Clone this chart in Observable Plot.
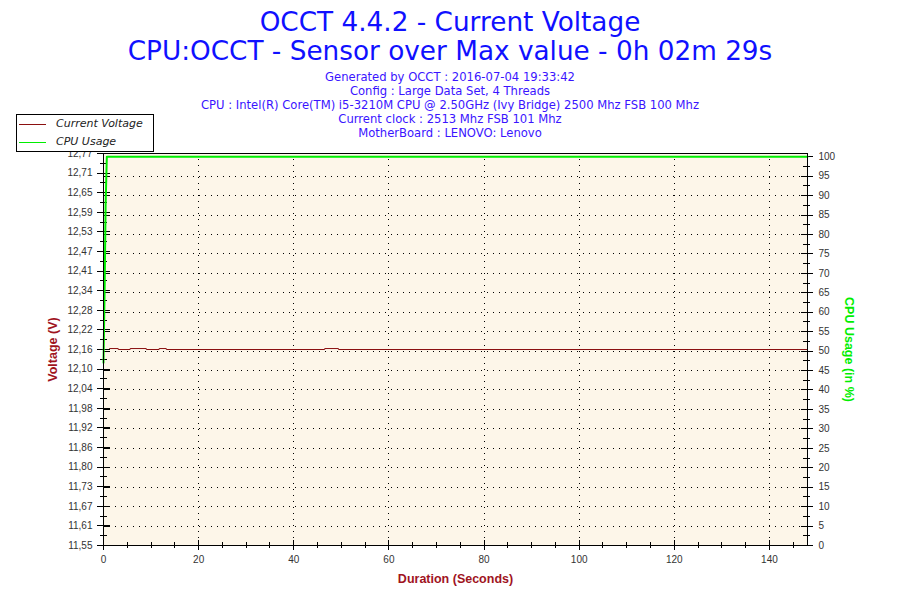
<!DOCTYPE html>
<html>
<head>
<meta charset="utf-8">
<script src="https://cdn.jsdelivr.net/npm/d3@7"></script>
<script src="https://cdn.jsdelivr.net/npm/@observablehq/plot@0.6"></script>
<style>
  html, body { margin: 0; padding: 0; background: #ffffff; }
  #wrap { position: relative; width: 900px; height: 600px; overflow: hidden; }
  #chart { position: absolute; left: 0; top: 0; }
  .t1 { position: absolute; left: 0; width: 900px; text-align: center; font-family: "DejaVu Sans", Verdana, sans-serif; font-size: 26.3px; color: #1010ff; line-height: 29px; }
  .sub { position: absolute; left: 0; width: 900px; text-align: center; font-family: "DejaVu Sans", Verdana, sans-serif; font-size: 11.6px; color: #3a14ff; line-height: 13.5px; }
  #legend { position: absolute; left: 16px; top: 114px; width: 136px; height: 36px; background: #fff; border: 1px solid #000; font-family: "DejaVu Sans", Verdana, sans-serif; font-size: 11px; font-style: italic; color: #222; }
  #legend .row { position: absolute; left: 0; height: 14px; width: 136px; }
  #legend .sw { position: absolute; left: 2px; top: 7px; width: 27px; height: 0; border-top: 1px solid; }
  #legend .lb { position: absolute; left: 39px; top: 0; line-height: 14px; }
</style>
</head>
<body>
<div id="wrap">
  <div id="chart"></div>
  <div class="t1" style="top:8px">OCCT 4.4.2 - Current Voltage</div>
  <div class="t1" style="top:37px">CPU:OCCT - Sensor over Max value - 0h 02m 29s</div>
  <div class="sub" style="top:71px">Generated by OCCT : 2016-07-04 19:33:42</div>
  <div class="sub" style="top:85px">Config : Large Data Set, 4 Threads</div>
  <div class="sub" style="top:99px">CPU : Intel(R) Core(TM) i5-3210M CPU @ 2.50GHz (Ivy Bridge) 2500 Mhz FSB 100 Mhz</div>
  <div class="sub" style="top:112.5px">Current clock : 2513 Mhz FSB 101 Mhz</div>
  <div class="sub" style="top:126.5px">MotherBoard : LENOVO: Lenovo</div>
  <div id="legend">
    <div class="row" style="top:2px"><div class="sw" style="border-color:#8b1010"></div><div class="lb">Current Voltage</div></div>
    <div class="row" style="top:20px"><div class="sw" style="border-color:#00ee00"></div><div class="lb">CPU Usage</div></div>
  </div>
</div>
<script>
// ---- data ----
const voltTime  = [1.3, 3.1, 5.6, 9.0, 11.7, 13.2, 46.5, 49.4, 148];
const voltValue = [12.163, 12.160, 12.163, 12.160, 12.163, 12.160, 12.163, 12.160, 12.160];

const cpuTime  = [0, 0.25, 0.45, 0.7, 148];
const cpuValue = [47, 67, 88, 100, 100];

const voltTickLabels = ["12,77","12,71","12,65","12,59","12,53","12,47","12,41","12,34","12,28","12,22","12,16","12,10","12,04","11,98","11,92","11,86","11,80","11,73","11,67","11,61","11,55"];
const cpuTickLabels = [0,5,10,15,20,25,30,35,40,45,50,55,60,65,70,75,80,85,90,95,100];
const xTickLabels = [0,20,40,60,80,100,120,140];
const xMinorTicks = [5,10,15,25,30,35,45,50,55,65,70,75,85,90,95,105,110,115,125,130,135,145];

// ---- scales / layout ----
const VMIN = 11.55, VMAX = 12.77, XMAX = 148;
const CPU_SPAN = 1.21; // CPU 0..100 mapped onto the voltage axis (100 sits just below top)
const cpuToV = c => VMIN + c / 100 * CPU_SPAN;
const ML = 103, MR = 93, MT = 153, MB = 55, W = 900, H = 600;
const PW = W - ML - MR, PH = H - MT - MB;
const BG = "#fdf6e9";
const RED = "#8b1010", GREEN = "#00ee00", TITLE_RED = "#a0141e";

const nV = voltTickLabels.length - 1;
const voltTicks = voltTickLabels.map((label, i) => ({v: VMAX - i * (VMAX - VMIN) / nV, label}));
const voltMinor = d3.range(nV).map(i => VMAX - (i + 0.5) * (VMAX - VMIN) / nV);
const cpuMinor = cpuTickLabels.slice(0, -1).map(c => c + 2.5);
const cpuGrid = cpuTickLabels.filter(c => c > 0 && c < 100);

const volt = voltTime.map((t, i) => ({t, v: voltValue[i]}));
const cpu = cpuTime.map((t, i) => ({t, v: cpuToV(cpuValue[i])}));

const chart = Plot.plot({
  width: W, height: H,
  marginLeft: ML, marginRight: MR, marginTop: MT, marginBottom: MB,
  x: {domain: [0, XMAX], axis: null},
  y: {domain: [VMIN, VMAX], axis: null},
  style: {fontFamily: "'Liberation Sans', Arial, sans-serif", fontSize: "10px", background: "#ffffff", overflow: "visible"},
  marks: [
    Plot.frame({fill: BG, stroke: null}),
    // grid
    Plot.ruleX(xTickLabels.filter(d => d > 0), {x: d => d, stroke: "#000", strokeDasharray: "1,5", shapeRendering: "crispEdges"}),
    Plot.ruleY(cpuGrid, {y: d => cpuToV(d), stroke: "#000", strokeDasharray: "1,5", shapeRendering: "crispEdges"}),
    // left ticks
    Plot.ruleY(voltTicks, {y: "v", insetLeft: -6, insetRight: PW - 7, stroke: "#000", shapeRendering: "crispEdges"}),
    Plot.ruleY(voltMinor, {y: d => d, insetLeft: -3, insetRight: PW - 4, stroke: "#000", shapeRendering: "crispEdges"}),
    Plot.ruleY(cpuGrid, {y: d => cpuToV(d), insetLeft: 0, insetRight: PW - 6, stroke: "#000", shapeRendering: "crispEdges"}),
    // right ticks
    Plot.ruleY(cpuTickLabels, {y: d => cpuToV(d), insetLeft: PW - 6, insetRight: -6, stroke: "#000", shapeRendering: "crispEdges"}),
    Plot.ruleY(cpuMinor, {y: d => cpuToV(d), insetLeft: PW - 4, insetRight: -3, stroke: "#000", shapeRendering: "crispEdges"}),
    // bottom ticks
    Plot.ruleX(xTickLabels, {x: d => d, insetTop: PH - 5, insetBottom: -5, stroke: "#000", shapeRendering: "crispEdges"}),
    Plot.ruleX(xMinorTicks, {x: d => d, insetTop: PH - 3, insetBottom: -3, stroke: "#000", shapeRendering: "crispEdges"}),
    // series
    Plot.line(volt, {x: "t", y: "v", curve: "step-after", stroke: RED, strokeWidth: 1}),
    Plot.line(cpu, {x: "t", y: "v", stroke: GREEN, strokeWidth: 2}),
    Plot.frame({stroke: "#000", shapeRendering: "crispEdges"}),
    // tick labels
    Plot.text(voltTicks, {y: "v", text: "label", frameAnchor: "left", textAnchor: "end", dx: -11, fill: "#333"}),
    Plot.text(cpuTickLabels, {y: d => cpuToV(d), text: d => String(d), frameAnchor: "right", textAnchor: "start", dx: 11, fill: "#333"}),
    Plot.text(xTickLabels, {x: d => d, text: d => String(d), frameAnchor: "bottom", dy: 17, fill: "#333"}),
    // axis titles
    Plot.text(["Voltage (V)"], {text: d => d, frameAnchor: "left", textAnchor: "middle", dx: -51, rotate: -90, fill: TITLE_RED, fontWeight: "bold", fontSize: 12.5}),
    Plot.text(["Duration (Seconds)"], {text: d => d, frameAnchor: "bottom", textAnchor: "middle", dy: 37, fill: TITLE_RED, fontWeight: "bold", fontSize: 12.5}),
    Plot.text(["CPU Usage (in %)"], {text: d => d, frameAnchor: "right", textAnchor: "middle", dx: 41, rotate: 90, fill: GREEN, fontWeight: "bold", fontSize: 12.5})
  ]
});
document.getElementById("chart").appendChild(chart);
</script>
</body>
</html>
